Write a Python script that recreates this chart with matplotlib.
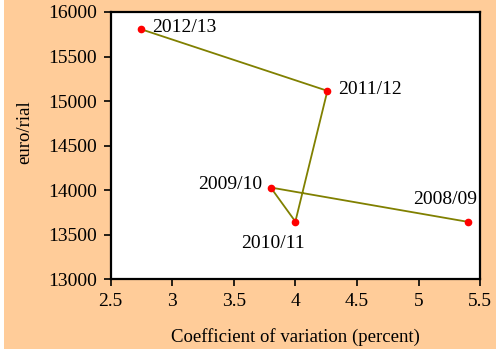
import matplotlib
matplotlib.use("Agg")
import matplotlib.pyplot as plt
from matplotlib.patches import Rectangle

# data, in the order the line is drawn
years = ["2008/09", "2009/10", "2010/11", "2011/12", "2012/13"]
cv_percent = [5.4, 3.8, 4.0, 4.26, 2.75]
euro_rial = [13645, 14030, 13648, 15115, 15805]

# label offsets in points (dx, dy) and alignment
label_pos = {
    "2008/09": ((7, 10), "right", "bottom"),
    "2009/10": ((-6, 2), "right", "center"),
    "2010/11": ((7, -10), "right", "top"),
    "2011/12": ((8, 1), "left", "center"),
    "2012/13": ((8, 1), "left", "center"),
}

plt.rcParams["font.family"] = ["Liberation Serif", "DejaVu Serif"]
peach = "#FFCC99"

fig = plt.figure(figsize=(4.96, 3.52), dpi=100, facecolor=peach)
# thin white margins left and bottom
fig.patches.append(Rectangle((0, 0), 4 / 496, 1, transform=fig.transFigure,
                             facecolor="white", edgecolor="none", zorder=-1))
fig.patches.append(Rectangle((0, 0), 1, 3 / 352, transform=fig.transFigure,
                             facecolor="white", edgecolor="none", zorder=-1))

ax = fig.add_axes([0.223, 0.2065, 0.745, 0.7595])
ax.set_facecolor("white")

ax.plot(cv_percent, euro_rial, color="#808000", linewidth=1.3, zorder=2)
ax.plot(cv_percent, euro_rial, "o", color="red", markersize=4.5, zorder=3)

for x, y, name in zip(cv_percent, euro_rial, years):
    (dx, dy), ha, va = label_pos[name]
    ax.annotate(name, (x, y), xytext=(dx, dy), textcoords="offset points",
                ha=ha, va=va, fontsize=14)

ax.set_xlim(2.5, 5.5)
ax.set_ylim(13000, 16000)
ax.set_xticks([2.5, 3, 3.5, 4, 4.5, 5, 5.5])
ax.set_xticklabels(["2.5", "3", "3.5", "4", "4.5", "5", "5.5"])
ax.set_yticks(range(13000, 16001, 500))

ax.tick_params(direction="out", length=5, width=1.2, labelsize=14, pad=5,
               top=False, right=False)
for s in ax.spines.values():
    s.set_linewidth(1.6)

ax.set_xlabel("Coefficient of variation (percent)", fontsize=13.5, labelpad=13)
ax.set_ylabel("euro/rial", fontsize=13.5)
ax.yaxis.set_label_coords(-0.21, 0.55)

fig.savefig("out.png", dpi=100, facecolor=peach)
